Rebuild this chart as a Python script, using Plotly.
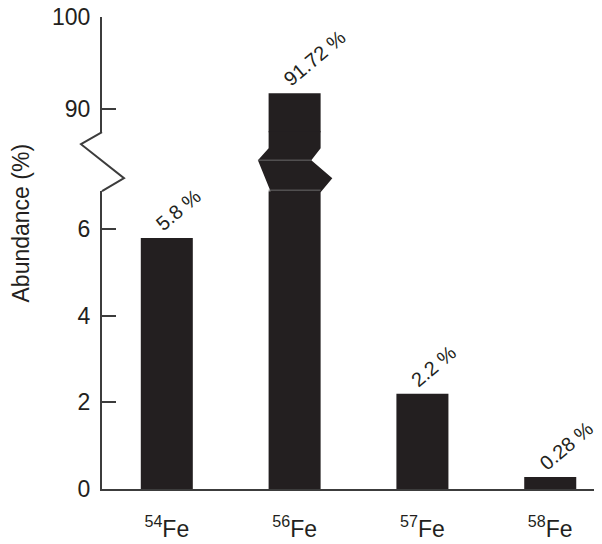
import plotly.graph_objects as go

# ---- data ----
isotopes = ["54", "56", "57", "58"]
abundance = [5.8, 91.72, 2.2, 0.28]
value_labels = ["5.8 %", "91.72 %", "2.2 %", "0.28 %"]
lower_ticks = [0, 2, 4, 6]
upper_ticks = [90, 100]
lower_range = [0, 6.88]
upper_range = [87.5, 100]
y_title = "Abundance (%)"

# ---- style / layout ----
PAGE_OFF = 8  # default body margin of the html page
W, H = 602 - PAGE_OFF, 544 - PAGE_OFF
M_L, M_R, M_T, M_B = 102 - PAGE_OFF, 0, 17 - PAGE_OFF, 55
plot_h = H - M_T - M_B
plot_w = W - M_L - M_R
lower_dom = [0, 0.631]
upper_dom = [0.756, 1]
x_range = [-0.507, 3.405]
px_per_x = plot_w / (x_range[1] - x_range[0])
bar_w = 0.407

BAR = "#231f20"
AXIS = "#3c3c3c"
TXT = "#231f20"
FONT = "Liberation Sans, Arial, Helvetica, sans-serif"

xs = list(range(len(isotopes)))
tick_text = [f"<sup>{m}</sup>Fe" for m in isotopes]

fig = go.Figure()
fig.add_bar(x=xs, y=abundance, width=bar_w, xaxis="x", yaxis="y",
            marker=dict(color=BAR, line=dict(width=0)), showlegend=False,
            hoverinfo="skip")
fig.add_bar(x=xs, y=abundance, width=bar_w, xaxis="x", yaxis="y2",
            marker=dict(color=BAR, line=dict(width=0)), showlegend=False,
            hoverinfo="skip")

# value labels
for i, (v, t) in enumerate(zip(abundance, value_labels)):
    yref = "y2" if v > upper_range[0] else "y"
    fig.add_annotation(x=i - bar_w / 2, y=v, xref="x", yref=yref, text=t,
                       showarrow=False, textangle=-40, xanchor="left",
                       yanchor="bottom", xshift=8, yshift=0,
                       font=dict(size=20, color=TXT, family=FONT))

# y-axis title
fig.add_annotation(x=(20 - 102) / plot_w, y=(489 - 223.5) / plot_h,
                   xref="paper", yref="paper", text=y_title, showarrow=False,
                   textangle=-90, xanchor="center", yanchor="middle",
                   font=dict(size=23, color=TXT, family=FONT))

# axis break (zigzag) on the y axis
gap = (upper_dom[0] - lower_dom[1]) * plot_h
fig.add_shape(type="path", xref="paper", yref="paper",
              xsizemode="pixel", ysizemode="pixel",
              xanchor=0, yanchor=lower_dom[1],
              path=f"M 0,{gap:.1f} L -21,{gap-12:.1f} L 22,13 L 0,0",
              line=dict(color=AXIS, width=2))

# broken piece of the 56Fe bar
hw = bar_w / 2 * px_per_x
big = abundance.index(max(abundance))
fig.add_shape(type="path", xref="x", yref="paper",
              xsizemode="pixel", ysizemode="pixel",
              xanchor=big, yanchor=lower_dom[1],
              path=(f"M {-hw:.1f},{gap+1:.1f} L {-hw:.1f},43 L {-hw-10.7:.1f},31 "
                    f"L {-hw+2.3:.1f},-1 L {hw:.1f},-1 L {hw+11.7:.1f},13 "
                    f"L {hw-9.3:.1f},31 L {hw:.1f},43 L {hw:.1f},{gap+1:.1f} Z"),
              fillcolor=BAR, line=dict(width=0))
fig.add_shape(type="path", xref="x", yref="paper",
              xsizemode="pixel", ysizemode="pixel",
              xanchor=big, yanchor=lower_dom[1],
              path=f"M {-hw-10.7:.1f},31 L {hw-9.3:.1f},31",
              line=dict(color="#6a6a6a", width=1))
fig.add_shape(type="path", xref="x", yref="paper",
              xsizemode="pixel", ysizemode="pixel",
              xanchor=big, yanchor=lower_dom[1],
              path=f"M {-hw:.1f},1 L {hw:.1f},1",
              line=dict(color="#6a6a6a", width=1))

axis_common = dict(showline=True, linecolor=AXIS, linewidth=2, ticks="inside",
                   ticklen=14, tickwidth=2, tickcolor=AXIS, showgrid=False,
                   zeroline=False, automargin=False,
                   tickfont=dict(size=23, color=TXT, family=FONT),
                   ticklabelstandoff=5, ticklabeloverflow="allow")

fig.update_layout(
    width=W, height=H, template="none",
    margin=dict(l=M_L, r=M_R, t=M_T, b=M_B, pad=0),
    paper_bgcolor="white", plot_bgcolor="white",
    barmode="overlay", showlegend=False,
    xaxis=dict(range=x_range, tickvals=xs, ticktext=tick_text, showline=True,
               linecolor=AXIS, linewidth=2, ticks="", showgrid=False,
               zeroline=False, automargin=False, anchor="y",
               ticklabelstandoff=18,
               tickfont=dict(size=23, color=TXT, family=FONT)),
    yaxis=dict(domain=lower_dom, range=lower_range, tickvals=lower_ticks,
               anchor="x", **axis_common),
    yaxis2=dict(domain=upper_dom, range=upper_range, tickvals=upper_ticks,
                anchor="x", **axis_common),
)

fig.write_html("out.html")
